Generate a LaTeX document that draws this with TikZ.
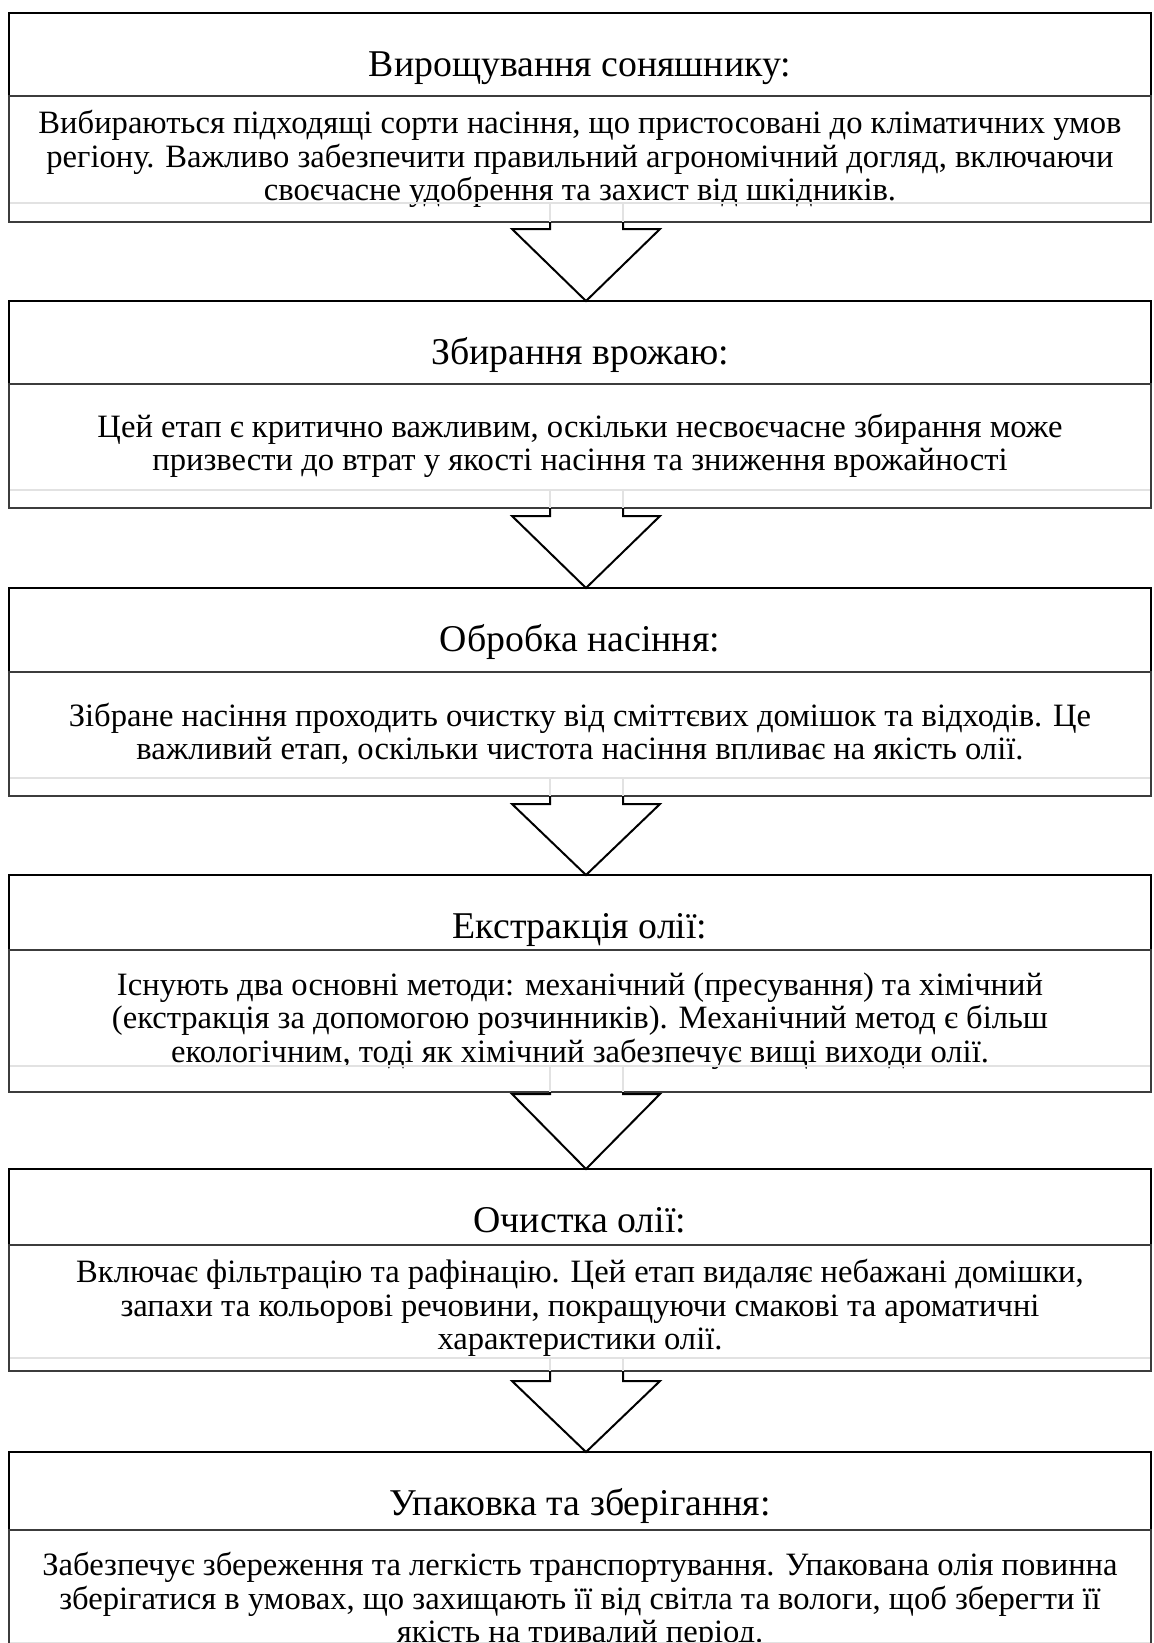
\documentclass[tikz,border=0pt]{standalone}
\usepackage{fontspec}
\setmainfont{Liberation Serif}
\usepackage{xcolor}
\usepackage{tikz}
\usetikzlibrary{positioning,calc}
\definecolor{FrameBlack}{RGB}{0,0,0}
\definecolor{FrameGray}{RGB}{60,60,60}
\definecolor{FaintGray}{RGB}{226,226,226}
\tikzset{
  stagehead/.style={draw=FrameBlack,line width=1.1pt,fill=white,minimum width=571pt,inner sep=0pt,outer sep=0pt,
    text height=31.5pt,font=\fontsize{18.9pt}{20pt}\selectfont},
  stagebody/.style={draw=FrameGray,line width=1.1pt,minimum width=571pt,inner sep=0pt,outer sep=0pt,align=center,
    font=\fontsize{16.3pt}{16.75pt}\selectfont},
  faintline/.style={draw=FaintGray,line width=1pt},
  blockarrow/.style={draw=FrameBlack,line width=1pt,line join=miter},
}

\begin{document}
\begin{tikzpicture}
  \useasboundingbox (0,0) rectangle (576.5pt,-821.5pt);

  % stages
  \node[stagehead,text depth=10pt,anchor=north] (t1) at (290pt,-6.5pt) {Вирощування соняшнику:};
  \node[stagebody,minimum height=63pt,below=0pt of t1] (b1)
    {Вибираються підходящі сорти насіння, що пристосовані до кліматичних умов\\
     регіону. Важливо забезпечити правильний агрономічний догляд, включаючи\\
     своєчасне удобрення та захист від шкідників.};

  \node[stagehead,text depth=10pt,below=39.5pt of b1] (t2) {Збирання врожаю:};
  \node[stagebody,minimum height=62pt,below=0pt of t2] (b2)
    {Цей етап є критично важливим, оскільки несвоєчасне збирання може\\
     призвести до втрат у якості насіння та зниження врожайності};

  \node[stagehead,text depth=10.5pt,below=40pt of b2] (t3) {Обробка насіння:};
  \node[stagebody,minimum height=62pt,below=0pt of t3] (b3)
    {Зібране насіння проходить очистку від сміттєвих домішок та відходів. Це\\
     важливий етап, оскільки чистота насіння впливає на якість олії.};

  \node[stagehead,text depth=6pt,below=39.5pt of b3] (t4) {Екстракція олії:};
  \node[stagebody,minimum height=71pt,below=0pt of t4] (b4)
    {Існують два основні методи: механічний (пресування) та хімічний\\
     (екстракція за допомогою розчинників). Механічний метод є більш\\
     екологічним, тоді як хімічний забезпечує вищі виходи олії.};

  \node[stagehead,text depth=6.5pt,below=38.5pt of b4] (t5) {Очистка олії:};
  \node[stagebody,minimum height=63pt,below=0pt of t5] (b5)
    {Включає фільтрацію та рафінацію. Цей етап видаляє небажані домішки,\\
     запахи та кольорові речовини, покращуючи смакові та ароматичні\\
     характеристики олії.};

  \node[stagehead,text depth=7.5pt,below=40.5pt of b5] (t6) {Упаковка та зберігання:};
  \node[stagebody,minimum height=71pt,below=0pt of t6] (b6)
    {Забезпечує збереження та легкість транспортування. Упакована олія повинна\\
     зберігатися в умовах, що захищають її від світла та вологи, щоб зберегти її\\
     якість на тривалий період.};

  % faint lines inside the bodies
  \draw[faintline] ($(b1.south west)+(0.6pt,9.5pt)$) -- ($(b1.south east)+(-0.6pt,9.5pt)$);
  \draw[faintline] ($(b2.south west)+(0.6pt,9pt)$) -- ($(b2.south east)+(-0.6pt,9pt)$);
  \draw[faintline] ($(b3.south west)+(0.6pt,9pt)$) -- ($(b3.south east)+(-0.6pt,9pt)$);
  \draw[faintline] ($(b4.south west)+(0.6pt,13pt)$) -- ($(b4.south east)+(-0.6pt,13pt)$);
  \draw[faintline] ($(b5.south west)+(0.6pt,6.5pt)$) -- ($(b5.south east)+(-0.6pt,6.5pt)$);
  \draw[faintline] ($(b6.south west)+(0.6pt,14.5pt)$) -- ($(b6.south east)+(-0.6pt,14.5pt)$);
  \draw[faintline] ($(b1.south)+(-15pt,9.5pt)$) -- ($(b1.south)+(-15pt,0)$) ($(b1.south)+(21.5pt,9.5pt)$) -- ($(b1.south)+(21.5pt,0)$);
  \draw[faintline] ($(b2.south)+(-15pt,9pt)$) -- ($(b2.south)+(-15pt,0)$) ($(b2.south)+(21.5pt,9pt)$) -- ($(b2.south)+(21.5pt,0)$);
  \draw[faintline] ($(b3.south)+(-15pt,9pt)$) -- ($(b3.south)+(-15pt,0)$) ($(b3.south)+(21.5pt,9pt)$) -- ($(b3.south)+(21.5pt,0)$);
  \draw[faintline] ($(b4.south)+(-15pt,13pt)$) -- ($(b4.south)+(-15pt,0)$) ($(b4.south)+(21.5pt,13pt)$) -- ($(b4.south)+(21.5pt,0)$);
  \draw[faintline] ($(b5.south)+(-15pt,6.5pt)$) -- ($(b5.south)+(-15pt,0)$) ($(b5.south)+(21.5pt,6.5pt)$) -- ($(b5.south)+(21.5pt,0)$);

  % arrows between stages
  \draw[blockarrow] ($(b1.south)+(-15pt,0)$) |- ($(t2.north)+(-34pt,36pt)$) -- ($(t2.north)+(3pt,0)$)
    -- ($(t2.north)+(40pt,36pt)$) -| ($(b1.south)+(21.5pt,0)$);
  \draw[blockarrow] ($(b2.south)+(-15pt,0)$) |- ($(t3.north)+(-34pt,36pt)$) -- ($(t3.north)+(3pt,0)$)
    -- ($(t3.north)+(40pt,36pt)$) -| ($(b2.south)+(21.5pt,0)$);
  \draw[blockarrow] ($(b3.south)+(-15pt,0)$) |- ($(t4.north)+(-34pt,35.5pt)$) -- ($(t4.north)+(3pt,0)$)
    -- ($(t4.north)+(40pt,35.5pt)$) -| ($(b3.south)+(21.5pt,0)$);
  \draw[blockarrow] ($(b4.south)+(-15pt,0)$) |- ($(t5.north)+(-34pt,37.5pt)$) -- ($(t5.north)+(3pt,0)$)
    -- ($(t5.north)+(40pt,37.5pt)$) -| ($(b4.south)+(21.5pt,0)$);
  \draw[blockarrow] ($(b5.south)+(-15pt,0)$) |- ($(t6.north)+(-34pt,35.5pt)$) -- ($(t6.north)+(3pt,0)$)
    -- ($(t6.north)+(40pt,35.5pt)$) -| ($(b5.south)+(21.5pt,0)$);
\end{tikzpicture}
\end{document}
